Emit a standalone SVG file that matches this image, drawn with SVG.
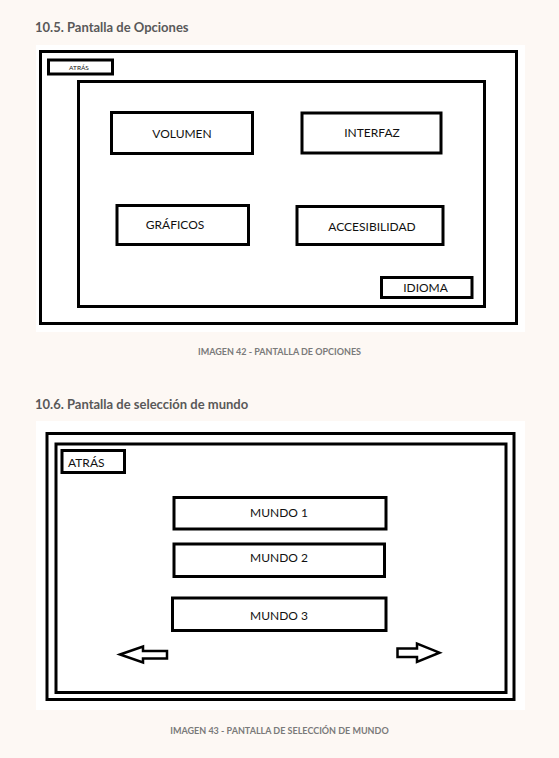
<svg xmlns="http://www.w3.org/2000/svg" width="559" height="758" viewBox="0 0 559 758">
<style>
.bg{fill:#fdf8f4}
.panel{fill:#ffffff}
.box{fill:#ffffff;stroke:#000;stroke-width:3}
.frame{fill:none;stroke:#000;stroke-width:3}
.arrow{fill:#ffffff;stroke:#000;stroke-width:2.5;stroke-linejoin:miter}
.h{font-family:Lato,"Liberation Sans",sans-serif;font-weight:bold;font-size:13px;fill:#595959}
.cap{font-family:Lato,"Liberation Sans",sans-serif;font-weight:bold;font-size:9px;fill:#7a7a7a;text-anchor:middle}
.t{font-family:Lato,"Liberation Sans",sans-serif;font-size:12px;fill:#111;text-anchor:middle}
.ts{font-family:Lato,"Liberation Sans",sans-serif;font-size:6.5px;fill:#111;text-anchor:middle}
</style>
<rect class="bg" x="0" y="0" width="559" height="758"/>

<text class="h" x="35" y="32">10.5. Pantalla de Opciones</text>
<g id="screen-opciones">
  <rect class="panel" x="36" y="45" width="489" height="287"/>
  <rect class="frame" x="40.5" y="51.5" width="476" height="272"/>
</g>
<g id="opciones-atras">
  <rect class="box" x="48.5" y="60" width="64" height="14"/>
  <text class="ts" x="79" y="69.5">ATRÁS</text>
</g>
<g id="opciones-panel">
  <rect class="frame" x="78.5" y="81.5" width="406" height="225"/>
</g>
<g id="opciones-volumen">
  <rect class="box" x="111.5" y="112.5" width="141" height="41"/>
  <text class="t" x="182" y="137.5">VOLUMEN</text>
</g>
<g id="opciones-interfaz">
  <rect class="box" x="302" y="113" width="139" height="40"/>
  <text class="t" x="372" y="137">INTERFAZ</text>
</g>
<g id="opciones-graficos">
  <rect class="box" x="117" y="205.5" width="131.5" height="39"/>
  <text class="t" x="175" y="229">GRÁFICOS</text>
</g>
<g id="opciones-accesibilidad">
  <rect class="box" x="297" y="206.5" width="146" height="38"/>
  <text class="t" x="372" y="231">ACCESIBILIDAD</text>
</g>
<g id="opciones-idioma">
  <rect class="box" x="381.5" y="277.5" width="90.5" height="20"/>
  <text class="t" x="425.5" y="292">IDIOMA</text>
</g>
<text class="cap" x="279.5" y="355">IMAGEN 42 - PANTALLA DE OPCIONES</text>

<text class="h" x="35" y="408.5">10.6. Pantalla de selección de mundo</text>
<g id="screen-mundo">
  <rect class="panel" x="36" y="421" width="489" height="289"/>
  <rect class="frame" x="47" y="433.5" width="467" height="266"/>
  <rect class="frame" x="56" y="444" width="450" height="248.5"/>
</g>
<g id="mundo-atras">
  <rect class="box" x="62" y="450.5" width="62.5" height="22"/>
  <text class="t" x="68" y="467" style="text-anchor:start">ATRÁS</text>
</g>
<g id="mundo-1">
  <rect class="box" x="174" y="497.5" width="212" height="31.5"/>
  <text class="t" x="279" y="516.5">MUNDO 1</text>
</g>
<g id="mundo-2">
  <rect class="box" x="174" y="544" width="210.5" height="32.5"/>
  <text class="t" x="279" y="561.5">MUNDO 2</text>
</g>
<g id="mundo-3">
  <rect class="box" x="172.5" y="598" width="213.5" height="32.5"/>
  <text class="t" x="279" y="619.5">MUNDO 3</text>
</g>
<g id="arrow-left">
  <polygon class="arrow" points="120,654.5 143,646.5 143,651 167,651 167,658.5 143,658.5 143,662.5"/>
</g>
<g id="arrow-right">
  <polygon class="arrow" points="397.5,648.5 417,648.5 417,643.5 439.5,652.7 417,662 417,657 397.5,657"/>
</g>
<g id="connectors"></g>
<text class="cap" x="279.5" y="734">IMAGEN 43 - PANTALLA DE SELECCIÓN DE MUNDO</text>
</svg>
